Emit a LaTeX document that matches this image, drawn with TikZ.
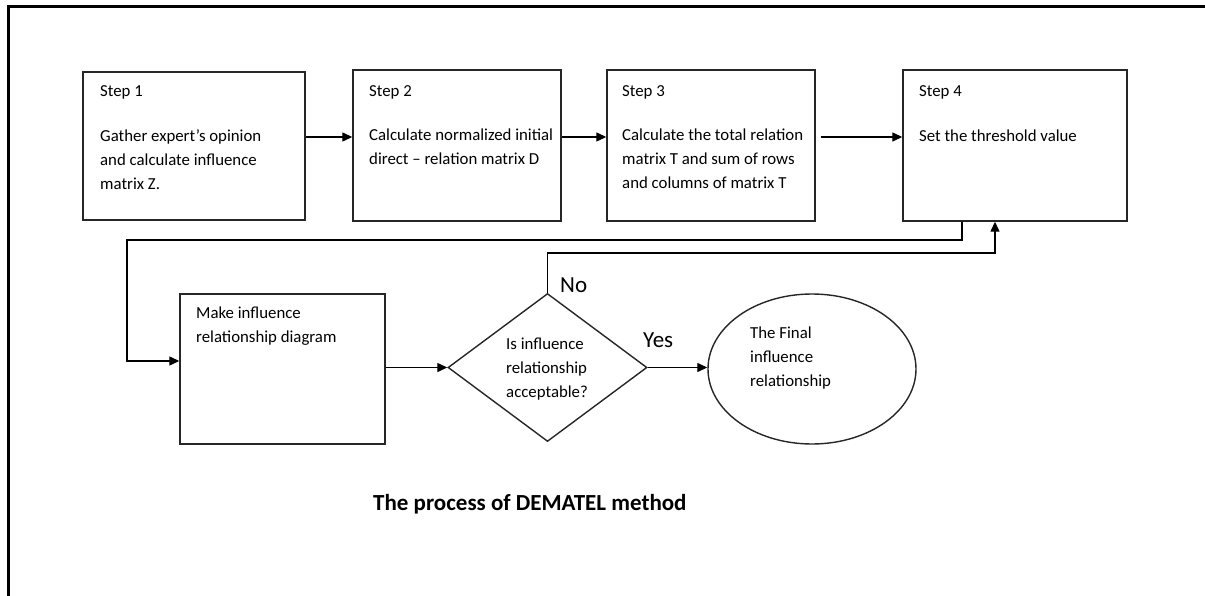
\documentclass[tikz,border=0pt]{standalone}
\usepackage{fontspec}
\setmainfont{Carlito}
\usetikzlibrary{shapes.geometric,arrows.meta}
\begin{document}
\begin{tikzpicture}[x=1pt,y=-1pt,
  boxshape/.style={draw=black!85,line width=1.4pt,rectangle,inner sep=0pt},
  txt/.style={anchor=base west,align=left,inner sep=0pt,font=\fontsize{16.8}{24}\selectfont},
  lbl/.style={anchor=base west,inner sep=0pt,font=\fontsize{23}{26}\selectfont},
  arr/.style={draw=black,line width=1.3pt,-{Triangle[length=10pt,width=9pt]}},
  conn/.style={draw=black,line width=1.3pt}]
\useasboundingbox (0,0) rectangle (1205,596);
\draw[line width=3pt] (8,596) -- (8,6.5) -- (1205,6.5);
% boxes
\node[boxshape,minimum width=222pt,minimum height=148pt] (s1) at (194,146) {};
\node[boxshape,minimum width=208pt,minimum height=151pt] (s2) at (457,145.5) {};
\node[boxshape,minimum width=208pt,minimum height=151pt] (s3) at (711,145.5) {};
\node[boxshape,minimum width=224pt,minimum height=151pt] (s4) at (1015,145.5) {};
\node[boxshape,minimum width=205pt,minimum height=150pt] (mk) at (282.5,369) {};
\node[draw=black!85,line width=1.4pt,diamond,aspect=1.345,minimum width=199pt,minimum height=148pt,inner sep=0pt] (dm) at (547.5,367.5) {};
\node[draw=black!85,line width=1.4pt,ellipse,minimum width=208pt,minimum height=150pt,inner sep=0pt] (el) at (812,369) {};
% texts (base anchor = baseline of the last line)
\node[txt] (t1a) at (100,96.5) {Step 1};
\node[txt] (t1b) at (100,190) {Gather expert’s opinion\\and calculate influence\\matrix Z.};
\node[txt] (t2a) at (369,96.5) {Step 2};
\node[txt] (t2b) at (369,165) {Calculate normalized initial\\direct – relation matrix D};
\node[txt] (t3a) at (622,96.5) {Step 3};
\node[txt] (t3b) at (622,189) {Calculate the total relation\\matrix T and sum of rows\\and columns of matrix T};
\node[txt] (t4a) at (919,96.5) {Step 4};
\node[txt] (t4b) at (919,142) {Set the threshold value};
\node[txt] (tm) at (196,342) {Make influence\\relationship diagram};
\node[txt] (td) at (506,397) {Is influence\\relationship\\acceptable?};
\node[txt] (te) at (750,386) {The Final\\influence\\relationship};
\node[lbl] (no) at (560,292) {No};
\node[lbl] (yes) at (643,347) {Yes};
\node[anchor=base west,inner sep=0pt,font=\fontsize{23}{26}\selectfont\bfseries] (title) at (373,510) {The process of DEMATEL method};
% connectors
\coordinate (ry) at (0,137);
\draw[arr] (s1.east |- ry) -- (s2.west |- ry);
\draw[arr] (s2.east |- ry) -- (s3.west |- ry);
\draw[arr] ([xshift=5pt]s3.east |- ry) -- (s4.west |- ry);
\coordinate (a1) at (962,240);
\coordinate (a2) at (127,240);
\coordinate (a3) at (127,361);
\draw[arr] (s4.south -| a1) -- (a1) -- (a2) -- (a3) -- (mk.west |- a3);
\coordinate (my) at (0,367.5);
\draw[arr] (mk.east |- my) -- (dm.west);
\coordinate (b1) at (547.5,253);
\coordinate (b2) at (995,253);
\draw[arr] (dm.north) -- (b1) -- (b2) -- (s4.south -| b2);
\draw[arr] (dm.east) -- (el.west |- dm.east);
\end{tikzpicture}
\end{document}
